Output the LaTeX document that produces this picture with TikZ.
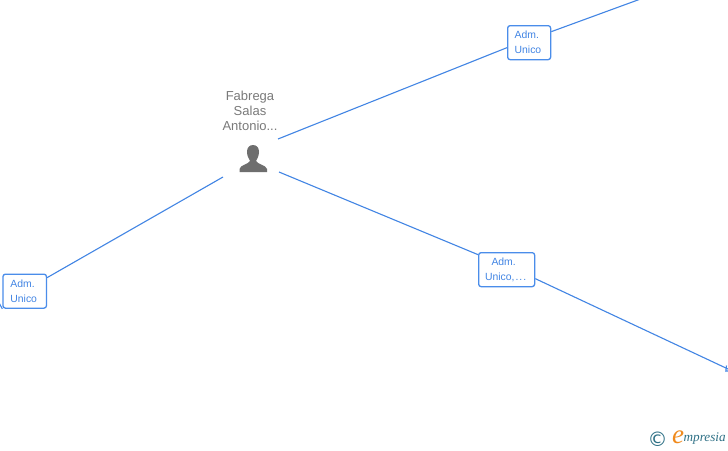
\documentclass[tikz,border=0pt]{standalone}
\usepackage{fontspec}
\setmainfont{Liberation Sans}
\newfontfamily\logofont{Liberation Serif}
\newfontfamily\copyfont{DejaVu Sans}
\definecolor{linkblue}{HTML}{4285E4}
\definecolor{boxblue}{HTML}{4A8DEA}
\definecolor{labelgray}{HTML}{7A7A7A}
\definecolor{icongray}{HTML}{6E6E6E}
\definecolor{logoteal}{HTML}{2F7186}
\definecolor{logoorange}{HTML}{F08A1D}
\tikzset{
  link/.style={draw=linkblue,line width=1.1pt},
  rolebox/.style={draw=boxblue,line width=1.3pt,fill=white,rounded corners=2.5pt,inner sep=0pt,
    font=\fontsize{10.4}{15}\selectfont,text=linkblue,anchor=north west},
  personlabel/.style={font=\fontsize{13}{14.8}\selectfont,text=labelgray,align=center,inner sep=0pt}
}
\begin{document}
\begin{tikzpicture}[x=1pt,y=-1pt]
\useasboundingbox (0,0) rectangle (728,450);
\clip (0,0) rectangle (728,450);
\fill[white] (0,0) rectangle (728,450);
% role boxes
\node[rolebox,minimum height=34pt,text width=36pt,inner xsep=3.5pt,align=left] (top) at (507,25) {\hspace{3.5pt}Adm.\\\hspace{3.5pt}Unico};
\node[rolebox,minimum height=34pt,text width=36.5pt,inner xsep=3.5pt,align=left] (left) at (2.3,273.5) {\hspace{4pt}Adm.\\\hspace{4pt}Unico};
\node[rolebox,minimum width=56pt,minimum height=34pt,align=center] (mid) at (478,252) {Adm.\kern6pt\\Unico,\kern1pt.\kern1pt.\kern1pt.\kern2pt};
% person
\node[personlabel] (name) at (250,110.8) {Fabrega\\Salas\\Antonio...};
\coordinate (pne) at (278,139);
\coordinate (pse) at (279,172);
\coordinate (psw) at (223,177);
\coordinate (farne) at (646,-3);
\coordinate (farse) at (731,370.4);
\coordinate (farsw) at (-2,301);
\fill[icongray] (253,145) .. controls (249,145) and (247,148) .. (247,152)
  .. controls (247,156) and (249,159) .. (250,161)
  .. controls (249,164) and (240,165) .. (239.5,169) -- (239.5,172) -- (267,172) -- (267,169)
  .. controls (266,165) and (257,164) .. (256,161)
  .. controls (257,159) and (259,156) .. (259,152)
  .. controls (259,148) and (257,145) .. (253,145) -- cycle;
% connectors
\draw[link] (pne) -- ([yshift=-5pt]top.west);
\draw[link] ([yshift=11pt]top.east) -- (farne);
\draw[link] (psw) -- ([yshift=13.5pt]left.east);
\draw[link] (pse) -- ([yshift=15pt]mid.west);
\draw[link] ([yshift=-9pt]mid.east) -- (farse);
\draw[link] (left.south west) -- (farsw);
\draw[link] (726.5,365.5) -- (725.8,371) -- (731,371);
% logo
\node[inner sep=0pt,font=\fontsize{20}{20}\selectfont\copyfont,text=logoteal] (copy) at (657.7,438.8) {\char"00A9};
\node[inner sep=0pt,font=\fontsize{27}{27}\selectfont\logofont\itshape,text=logoorange] (logoe) at (678,437) {e};
\node[inner sep=0pt,anchor=west,font=\fontsize{13.2}{13.2}\selectfont\logofont\itshape,text=logoteal] (logot) at (683.5,439) {mpresia};
\end{tikzpicture}
\end{document}
